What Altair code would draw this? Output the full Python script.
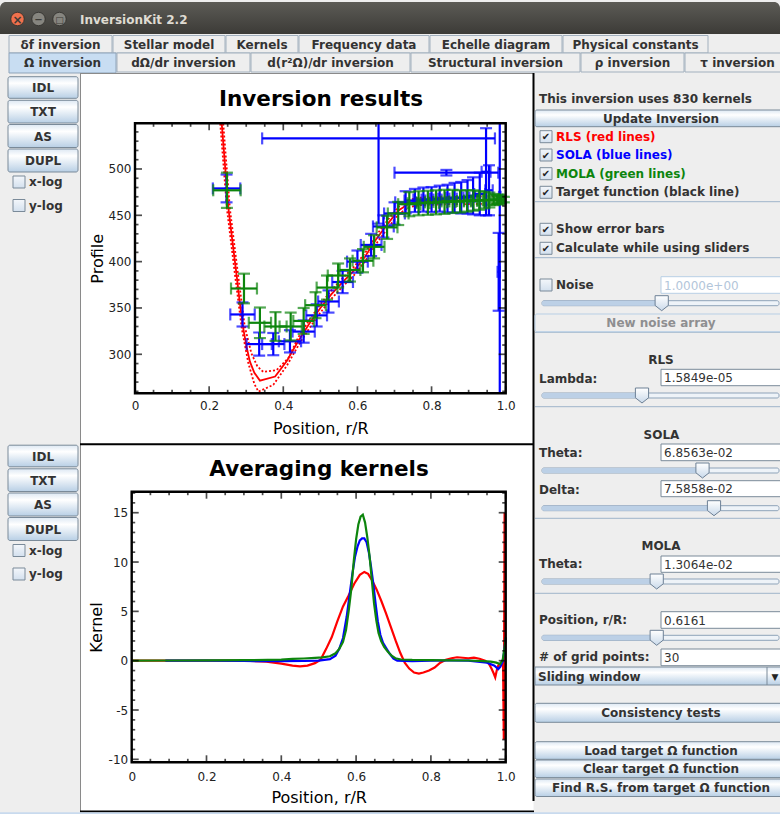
import altair as alt
import pandas as pd

FONT = "DejaVu Sans"
INK = "#333333"
RED, BLUE, GREEN = "#ff0000", "#0000ff", "#0d850d"
W, H = 780, 814

# ---------------- Omega inversion results ----------------
# RLS solution (solid) and its 1-sigma envelope (dotted)
rls_r = [0.234, 0.245, 0.252, 0.264, 0.274, 0.283, 0.292, 0.301, 0.310, 0.322, 0.337,
         0.378, 0.410, 0.440, 0.470, 0.500, 0.530, 0.560, 0.590, 0.620, 0.650, 0.680,
         0.710, 0.740, 0.770, 0.800, 0.850, 0.900, 0.950, 0.997]
rls_omega = [549, 493, 457.6, 418, 385.6, 355, 328, 308, 292, 280, 271.6,
             276, 293, 314, 333, 350, 365, 378, 390, 405, 424, 440,
             455, 463, 465, 465.5, 466, 466, 466.5, 466.5]
rls_hi_r = [0.238, 0.256, 0.278, 0.296, 0.314, 0.330, 0.346, 0.382, 0.414, 0.440, 0.470,
            0.500, 0.530, 0.560, 0.590, 0.620, 0.650, 0.680, 0.710, 0.740, 0.770, 0.800,
            0.850, 0.900, 0.950, 0.997]
rls_hi_omega = [549, 457, 386, 330, 301, 287, 281, 283, 296, 318, 337,
                354, 369, 382, 394, 409, 428, 444, 459, 467, 469, 469.5,
                470, 470, 470.5, 470.5]
rls_lo_r = [0.230, 0.248, 0.270, 0.288, 0.306, 0.322, 0.333, 0.373, 0.410, 0.440, 0.470,
            0.500, 0.530, 0.560, 0.590, 0.620, 0.650, 0.680, 0.710, 0.740, 0.770, 0.800,
            0.850, 0.900, 0.950, 0.997]
rls_lo_omega = [549, 457, 385, 328, 290, 268, 259.7, 267, 288, 309, 328,
                345, 360, 373, 385, 400, 419, 435, 451, 459, 461, 461.5,
                462, 462, 462.5, 462.5]

# SOLA estimates: kernel centre, value, kernel half-width, error
sola_r = [0.247, 0.290, 0.335, 0.373, 0.418, 0.455, 0.490, 0.522, 0.560, 0.600,
          0.637, 0.670, 0.700, 0.730, 0.755, 0.778, 0.800, 0.822, 0.843, 0.862,
          0.880, 0.897, 0.912, 0.930, 0.955, 0.947, 0.840, 0.657, 0.981, 0.984]
sola_omega = [479, 343, 311, 311, 314, 324.5, 342, 357, 378, 400,
              418, 438, 452, 464, 466, 467, 467, 468, 468, 469,
              469, 470, 471, 473, 477, 497, 496, 533, 389, 470]
sola_dr = [0.037, 0.033, 0.034, 0.030, 0.030, 0.030, 0.028, 0.028, 0.028, 0.028,
           0.028, 0.028, 0.028, 0.028, 0.028, 0.027, 0.027, 0.026, 0.025, 0.024,
           0.022, 0.020, 0.018, 0.015, 0.010, 0.012, 0.140, 0.314, 0.003, 0.002]
sola_domega = [15, 13, 12.5, 12, 12, 12, 12, 12, 12, 12,
               12, 12, 12, 12, 12.5, 13, 13.5, 14, 15, 16,
               17, 18, 20, 23, 27, 47, 3, 92, 42, 400]

# MOLA estimates
mola_r = [0.248, 0.294, 0.337, 0.379, 0.420, 0.455, 0.487, 0.518, 0.548, 0.580,
          0.615, 0.645, 0.680, 0.710, 0.740, 0.765, 0.790, 0.812, 0.835, 0.857,
          0.877, 0.896, 0.913, 0.929, 0.943, 0.956, 0.967, 0.977, 0.987, 0.995]
mola_omega = [477, 371, 334, 330, 330, 336, 353, 372, 385, 391,
              401, 416, 437, 452, 462, 463, 463.5, 464, 464.5, 465,
              465, 465.5, 466, 466, 466.5, 466.5, 467, 467, 467, 467]
mola_dr = [0.037, 0.035, 0.030, 0.030, 0.030, 0.028, 0.028, 0.028, 0.028, 0.028,
           0.028, 0.028, 0.028, 0.028, 0.030, 0.030, 0.030, 0.030, 0.030, 0.030,
           0.029, 0.027, 0.025, 0.022, 0.019, 0.015, 0.011, 0.008, 0.005, 0.003]
mola_domega = [19, 16, 16.5, 15.5, 15, 14, 14, 13, 13, 12.5,
               12.5, 12.5, 12.5, 12.5, 13, 13, 13, 13, 13, 12.5,
               12, 11.5, 11, 10, 9, 8, 6, 5, 4, 3]

# ---------------- averaging kernels at r/R = 0.6161 ----------------
kern_rls_r = [0.0, 0.20, 0.30, 0.36, 0.40, 0.43, 0.45, 0.47, 0.49, 0.505,
              0.52, 0.535, 0.55, 0.565, 0.58, 0.595, 0.61, 0.622, 0.632, 0.642,
              0.655, 0.668, 0.68, 0.693, 0.706, 0.718, 0.73, 0.742, 0.755, 0.768,
              0.78, 0.795, 0.81, 0.825, 0.84, 0.855, 0.87, 0.885, 0.90, 0.915,
              0.93, 0.945, 0.955, 0.962, 0.968, 0.972, 0.976, 0.98, 0.985, 0.99,
              0.993, 0.995, 0.997, 0.999]
kern_rls_k = [0.0, 0.0, 0.0, -0.1, -0.3, -0.5, -0.58, -0.5, -0.25, 0.1,
              1.2, 2.4, 4.0, 5.5, 6.6, 7.8, 8.7, 9.0, 8.8, 8.2,
              7.2, 6.0, 4.8, 3.4, 2.0, 0.8, -0.2, -0.8, -1.2, -1.3,
              -1.2, -1.0, -0.7, -0.2, 0.1, 0.25, 0.35, 0.3, 0.25, 0.3,
              0.2, 0.0, -0.3, -0.8, -1.3, -1.7, -1.0, -0.5, -0.3, -0.2,
              -0.3, -8.0, 15.0, -0.5]
kern_sola_r = [0.09, 0.20, 0.30, 0.40, 0.46, 0.50, 0.53, 0.545, 0.555, 0.565,
               0.575, 0.583, 0.590, 0.597, 0.604, 0.610, 0.616, 0.622, 0.628, 0.634,
               0.640, 0.646, 0.652, 0.658, 0.665, 0.672, 0.680, 0.690, 0.700, 0.710,
               0.750, 0.800, 0.850, 0.900, 0.950, 0.970, 0.980, 0.986, 0.992, 0.996, 1.0]
kern_sola_k = [0.0, 0.0, -0.03, -0.05, -0.03, 0.0, 0.15, 0.5, 1.2, 2.3,
               4.5, 6.8, 8.8, 10.5, 11.6, 12.2, 12.4, 12.4, 12.0, 11.0,
               9.5, 7.8, 5.8, 4.0, 2.6, 1.8, 1.3, 0.7, 0.2, 0.0,
               -0.05, 0.0, 0.02, 0.0, -0.2, -0.5, -0.85, -0.6, -0.1, 1.0, 2.3]
kern_mola_r = [0.0, 0.10, 0.20, 0.30, 0.40, 0.43, 0.46, 0.49, 0.51, 0.53,
               0.545, 0.555, 0.565, 0.573, 0.580, 0.587, 0.594, 0.600, 0.606, 0.612,
               0.618, 0.624, 0.630, 0.636, 0.642, 0.648, 0.654, 0.660, 0.667, 0.675,
               0.685, 0.695, 0.705, 0.720, 0.750, 0.800, 0.850, 0.900, 0.940, 0.960,
               0.975, 0.985, 0.992, 0.997, 1.0]
kern_mola_k = [0.0, 0.02, 0.03, 0.05, 0.10, 0.18, 0.22, 0.28, 0.33, 0.45,
               0.75, 1.2, 1.9, 3.1, 5.0, 7.2, 10.2, 12.3, 13.8, 14.6,
               14.8, 14.0, 12.5, 10.6, 8.2, 5.8, 4.1, 2.8, 2.0, 1.4,
               0.9, 0.5, 0.25, 0.12, 0.08, 0.06, 0.04, 0.02, -0.05, -0.1,
               -0.2, -0.35, 0.1, 1.3, 2.4]

# ---------------- axis ticks ----------------
r_major = [0, 0.2, 0.4, 0.6, 0.8, 1.0]
r_minor = [round(0.05 * i, 2) for i in range(1, 20) if i % 4]
omega_major = [300, 350, 400, 450, 500]
omega_minor = [v for v in range(260, 550, 10) if v % 50]
kernel_major = [-10, -5, 0, 5, 10, 15]
kernel_minor = [v for v in range(-10, 18) if v % 5]

# plot boxes inside the window, in pixels
TOP = dict(left=135.0, right=505.7, top=123.3, bottom=393.3)
BOT = dict(left=131.7, right=505.7, top=491.7, bottom=762.3)
TOP_OMEGA = [257.9, 549.3]
BOT_KERNEL = [-10.3, 17.13]


def lin_scale(domain, rng):
    return alt.Scale(domain=domain, range=rng, clamp=True, nice=False, zero=False)


top_x = lin_scale([0, 1], [TOP["left"], TOP["right"]])
top_y = lin_scale(TOP_OMEGA, [TOP["bottom"], TOP["top"]])
bot_x = lin_scale([0, 1], [BOT["left"], BOT["right"]])
bot_y = lin_scale(BOT_KERNEL, [BOT["bottom"], BOT["top"]])


# ---------------- helpers: window widgets in pixel space ----------------
def _x(f):
    return alt.X(f, type="quantitative", scale=None, axis=None)


def _y(f):
    return alt.Y(f, type="quantitative", scale=None, axis=None)


def vgrad(*stops):
    return alt.Gradient(gradient="linear", x1=0, x2=0, y1=0, y2=1,
                        stops=[alt.GradientStop(offset=o, color=c) for o, c in stops])


BUTTON_FILL = vgrad((0, "#dde8f3"), (0.3, "#ffffff"), (1, "#b8cfe5"))
EDGE = "#7a8a99"


def boxes(rows, **mark):
    df = pd.DataFrame(rows, columns=["x0", "x1", "y0", "y1"])
    return alt.Chart(df).mark_rect(**mark).encode(x=_x("x0"), x2="x1", y=_y("y0"), y2="y1")


def hlines(rows, **mark):
    df = pd.DataFrame(rows, columns=["x0", "x1", "y"])
    return alt.Chart(df).mark_rule(**mark).encode(x=_x("x0"), x2="x1", y=_y("y"))


def vlines(rows, **mark):
    df = pd.DataFrame(rows, columns=["x", "y0", "y1"])
    return alt.Chart(df).mark_rule(**mark).encode(x=_x("x"), y=_y("y0"), y2="y1")


def texts(rows, **mark):
    df = pd.DataFrame(rows, columns=["t", "x", "y"])
    style = dict(font=FONT, fontSize=12, fontWeight="bold", color=INK,
                 baseline="middle", align="left")
    style.update(mark)
    return alt.Chart(df).mark_text(**style).encode(x=_x("x"), y=_y("y"), text="t:N")


def buttons(rows, x0, x1, cx, fill=BUTTON_FILL, stroke=EDGE, color=INK):
    # rows: (label, top, bottom)
    return [
        boxes([(x0, x1, t, b) for _, t, b in rows], fill=fill, stroke=stroke,
              strokeWidth=1, cornerRadius=2),
        texts([(s, cx, (t + b) / 2 + 0.5) for s, t, b in rows], align="center", color=color),
    ]


def checkboxes(rows, x0, checked=True):
    # rows: y centre of each box
    layers = [boxes([(x0, x0 + 12, y - 6, y + 6) for y in rows],
                    fill=vgrad((0, "#f4f7fb"), (1, "#d3e0ee")), stroke=EDGE, strokeWidth=1)]
    if checked:
        layers.append(texts([("\u2714", x0 + 6, y + 0.5) for y in rows],
                            align="center", fontSize=10, fontWeight="normal", color="#222222"))
    return layers


THUMB = "M -0.88 -1 L 0.88 -1 L 0.88 0.3 L 0 1 L -0.88 0.3 Z"


def sliders(rows, x0=542, x1=779):
    # rows: (track centre y, thumb x)
    df = pd.DataFrame(rows, columns=["y", "tx"])
    df["x0"], df["x1"] = x0, x1
    df["ya"], df["yb"] = df["y"] - 2.5, df["y"] + 2.5
    base = alt.Chart(df)
    return [
        base.mark_rect(fill="#eef3f8", stroke="#8ea3b9", strokeWidth=1, cornerRadius=2)
            .encode(x=_x("x0"), x2="x1", y=_y("ya"), y2="yb"),
        base.mark_rect(fill="#bcd0e6", cornerRadius=2)
            .encode(x=_x("x0"), x2="tx", y=_y("ya"), y2="yb"),
        base.mark_point(shape=THUMB, size=225, filled=True, opacity=1,
                        fill=vgrad((0, "#ffffff"), (1, "#c9d9ea")), stroke="#6d8095",
                        strokeWidth=1)
            .encode(x=_x("tx"), y=_y("y")),
    ]


def fields(rows, x0=661, x1=790, color=INK, stroke=EDGE):
    # rows: (text, top, bottom)
    return [
        boxes([(x0, x1, t, b) for _, t, b in rows], fill="white", stroke=stroke, strokeWidth=1),
        texts([(s, x0 + 3, (t + b) / 2 + 0.5) for s, t, b in rows],
              fontWeight="normal", color=color),
    ]


# ---------------- helpers: the two plots ----------------
def line(xs, ys, sx, sy, color, width=2.0, dash=None):
    kw = dict(color=color, strokeWidth=width)
    if dash:
        kw["strokeDash"] = dash
    df = pd.DataFrame({"r": xs, "v": ys})
    return alt.Chart(df).mark_line(**kw).encode(
        x=alt.X("r:Q", scale=sx, axis=None), y=alt.Y("v:Q", scale=sy, axis=None))


def error_bars(r, v, dr, dv, sx, sy, ydom, color, cap=12, width=2.2):
    df = pd.DataFrame({"r": r, "v": v, "dr": dr, "dv": dv})
    base = alt.Chart(df).transform_calculate(
        r_lo="datum.r - datum.dr", r_hi="datum.r + datum.dr",
        v_lo="datum.v - datum.dv", v_hi="datum.v + datum.dv")

    def X(f):
        return alt.X(f, type="quantitative", scale=sx, axis=None)

    def Y(f):
        return alt.Y(f, type="quantitative", scale=sy, axis=None)

    layers = [
        base.mark_rule(color=color, strokeWidth=width).encode(x=X("r_lo"), x2="r_hi", y=Y("v")),
        base.mark_rule(color=color, strokeWidth=width).encode(x=X("r"), y=Y("v_lo"), y2="v_hi"),
    ]
    for f in ("r_lo", "r_hi"):
        layers.append(base.transform_filter(f"datum.{f} >= 0 && datum.{f} <= 1")
                      .mark_tick(orient="vertical", size=cap, thickness=width, color=color)
                      .encode(x=X(f), y=Y("v")))
    for f in ("v_lo", "v_hi"):
        layers.append(base.transform_filter(f"datum.{f} >= {ydom[0]} && datum.{f} <= {ydom[1]}")
                      .mark_tick(orient="horizontal", size=cap, thickness=width, color=color)
                      .encode(x=X("r"), y=Y(f)))
    return layers


def edge_ticks(values, scale, box, axis, length):
    df = pd.DataFrame({"v": values})
    base = alt.Chart(df)
    common = dict(color="black", thickness=1.7, size=length)
    h = length / 2
    if axis == "x":
        enc = alt.X("v:Q", scale=scale, axis=None)
        return [base.mark_tick(orient="vertical", yOffset=-h, **common)
                    .encode(x=enc, y=alt.value(box["bottom"])),
                base.mark_tick(orient="vertical", yOffset=h, **common)
                    .encode(x=enc, y=alt.value(box["top"]))]
    enc = alt.Y("v:Q", scale=scale, axis=None)
    return [base.mark_tick(orient="horizontal", xOffset=h, **common)
                .encode(y=enc, x=alt.value(box["left"])),
            base.mark_tick(orient="horizontal", xOffset=-h, **common)
                .encode(y=enc, x=alt.value(box["right"]))]


def frame(box, sx, sy, ydom, y_values, y_title, xlab_pad, xtitle_pad, ylab_pad, ytitle_pad):
    df = pd.DataFrame({"x0": [0], "x1": [1], "y0": [ydom[0]], "y1": [ydom[1]]})
    label_style = dict(labelFont=FONT, labelFontSize=12, labelColor="#222222",
                       labelFlush=False, labelOverlap=False, ticks=False, domain=False,
                       grid=False, titleFont=FONT, titleFontSize=16,
                       titleFontWeight="normal", titleColor="black", zindex=2)
    xaxis = alt.Axis(orient="bottom", offset=box["bottom"] - H, values=r_major,
                     labelExpr="datum.value == 0 ? '0' : format(datum.value, '.1f')",
                     labelPadding=xlab_pad, title="Position, r/R", titlePadding=xtitle_pad,
                     **label_style)
    yaxis = alt.Axis(orient="left", offset=-box["left"], values=y_values,
                     labelExpr="datum.value + ''", labelPadding=ylab_pad,
                     title=y_title, titlePadding=ytitle_pad, **label_style)
    return alt.Chart(df).mark_rect(fillOpacity=0, stroke="black", strokeWidth=2.4).encode(
        x=alt.X("x0:Q", scale=sx, axis=xaxis), x2="x1",
        y=alt.Y("y0:Q", scale=sy, axis=yaxis), y2="y1")


def plot_title(text, x, y):
    return texts([(text, x, y)], align="center", baseline="alphabetic",
                 fontSize=21.5, color="black")


# ---------------- window chrome ----------------
layers = []

# title bar
layers.append(boxes([(0, 780, 2, 34)],
                    fill=vgrad((0, "#5c5b56"), (1, "#3c3b37")),
                    cornerRadiusTopLeft=6, cornerRadiusTopRight=6))
win_btn = pd.DataFrame({"x": [17.5, 38.5, 59.5], "y": [19, 19, 19],
                        "c": ["#f0714d", "#86857f", "#86857f"]})
layers.append(alt.Chart(win_btn).mark_circle(size=180, opacity=1, stroke="#2e2d2a",
                                             strokeWidth=0.8)
              .encode(x=_x("x"), y=_y("y"), color=alt.Color("c:N", scale=None)))
layers.append(texts([("\u00d7", 17.5, 19.5)], align="center", fontSize=12, color="#3c3b37"))
layers.append(texts([("\u2212", 38.5, 19.5)], align="center", fontSize=10, color="#3c3b37"))
layers.append(texts([("\u25a1", 59.5, 19.5)], align="center", fontSize=9, color="#3c3b37"))
layers.append(texts([("InversionKit 2.2", 80, 19.5)], color="#dfdbd2"))

# tabs
tabs_row1 = [("\u03b4f inversion", 9, 112), ("Stellar model", 113, 225),
             ("Kernels", 226, 298), ("Frequency data", 299, 429),
             ("Echelle diagram", 430, 562), ("Physical constants", 563, 708)]
tabs_row2 = [("\u03a9 inversion", 9, 116), ("d\u03a9/dr inversion", 117, 250),
             ("d(r\u00b2\u03a9)/dr inversion", 251, 410), ("Structural inversion", 411, 580),
             ("\u03c1 inversion", 581, 684), ("\u03c4 inversion", 685, 790)]
layers.append(boxes([(a, b, 35.5, 53) for _, a, b in tabs_row1],
                    fill="#eeeeee", stroke="#a2b0be", strokeWidth=1))
layers.append(boxes([(a, b, 53, 72) for _, a, b in tabs_row2[1:]],
                    fill="#eeeeee", stroke="#a2b0be", strokeWidth=1))
layers.append(boxes([(tabs_row2[0][1], tabs_row2[0][2], 53, 73)],
                    fill="#c8ddf2", stroke="#8ea3b9", strokeWidth=1))
layers.append(texts([(s, (a + b) / 2, 44.5) for s, a, b in tabs_row1], align="center"))
layers.append(texts([(s, (a + b) / 2, 63) for s, a, b in tabs_row2], align="center"))

# left tool columns (one per plot)
left_top = [("IDL", 76.7, 98.3), ("TXT", 100.3, 123), ("AS", 124.5, 147.5), ("DUPL", 149, 172)]
left_bot = [(s, t + 368.5, b + 368.5) for s, t, b in left_top]
layers += buttons(left_top + left_bot, 8, 78, 43)
layers += checkboxes([182, 205.5, 550.5, 574], 13, checked=False)
layers.append(texts([("x-log", 29, 182), ("y-log", 29, 205.5),
                     ("x-log", 29, 550.5), ("y-log", 29, 574)]))

# white plot panels
layers.append(boxes([(80.5, 533.5, 73.5, 443.5), (80.5, 533.5, 445, 811.5)], fill="white"))
layers.append(vlines([(80.5, 73, 812)], color="#8a8a8a", strokeWidth=1))
layers.append(hlines([(80, 534, 73.5)], color="#8a8a8a", strokeWidth=1))
layers.append(vlines([(533.5, 73, 801)], color="black", strokeWidth=2))
layers.append(hlines([(80, 534, 444.2), (80, 534, 811.5)], color="black", strokeWidth=2))
layers.append(boxes([(0, 780, 812.3, 814)], fill="#c8daee"))

# right control column
layers.append(texts([("This inversion uses 830 kernels", 539, 99)]))
layers += buttons([("Update Inversion", 110, 126.7)], 535, 790, 661)
layers += checkboxes([136.7, 155, 173.7, 192.3, 229.3, 248.3], 540)
layers += checkboxes([285], 540, checked=False)
layers.append(texts([("RLS (red lines)", 556, 136.7)], color=RED))
layers.append(texts([("SOLA (blue lines)", 556, 155)], color=BLUE))
layers.append(texts([("MOLA (green lines)", 556, 173.7)], color=GREEN))
layers.append(texts([("Target function (black line)", 556, 192.3),
                     ("Show error bars", 556, 229.3),
                     ("Calculate while using sliders", 556, 248.3),
                     ("Noise", 556, 285)]))
layers.append(hlines([(535, 780, y) for y in (201.7, 257.7, 332.3, 406.7, 518.3, 593.3)],
                     color="#9fb4ca", strokeWidth=1))
layers += fields([("1.0000e+00", 276.7, 293.3)], color="#b3c6da", stroke="#b8cfe5")
layers += buttons([("New noise array", 314, 331.7)], 535, 790, 661,
                  fill="#eeeeee", stroke="#b8cfe5", color="#8e8f91")
layers.append(texts([("RLS", 661, 360), ("SOLA", 661.5, 435), ("MOLA", 661, 545.7)],
                    align="center"))
layers.append(texts([("Lambda:", 539, 379), ("Theta:", 539, 452.7), ("Delta:", 539, 490),
                     ("Theta:", 539, 564), ("Position, r/R:", 539, 620),
                     ("# of grid points:", 539, 657.3)]))
layers += fields([("1.5849e-05", 369.3, 385.7), ("6.8563e-02", 444, 460.7),
                  ("7.5858e-02", 480.7, 496.7), ("1.3064e-02", 556, 572.3),
                  ("0.6161", 611.7, 628.3), ("30", 649, 665.7)])
layers += sliders([(303.2, 661.7), (395.5, 642), (470.5, 702.5), (508.2, 714),
                   (581.5, 656.7), (637.8, 656.7)])
layers.append(boxes([(535, 790, 667, 685)], fill=BUTTON_FILL, stroke=EDGE, strokeWidth=1))
layers.append(vlines([(767, 667, 685)], color=EDGE, strokeWidth=1))
layers.append(texts([("Sliding window", 538, 676.5)]))
layers.append(texts([("\u25bc", 775, 676.5)], align="center", fontSize=9, color="#222222"))
layers += buttons([("Consistency tests", 703.3, 722.3),
                   ("Load target \u03a9 function", 741.7, 759.3),
                   ("Clear target \u03a9 function", 760, 777.6),
                   ("Find R.S. from target \u03a9 function", 779, 796.5)], 535, 790, 661)

# ---------------- plot 1: inversion results ----------------
layers.append(line(rls_hi_r, rls_hi_omega, top_x, top_y, RED, 1.8, [2, 2]))
layers.append(line(rls_lo_r, rls_lo_omega, top_x, top_y, RED, 1.8, [2, 2]))
layers.append(line(rls_r, rls_omega, top_x, top_y, RED, 1.8))
layers += error_bars(sola_r, sola_omega, sola_dr, sola_domega, top_x, top_y, TOP_OMEGA, BLUE)
layers += error_bars(mola_r, mola_omega, mola_dr, mola_domega, top_x, top_y, TOP_OMEGA, GREEN)
layers += edge_ticks(r_major, top_x, TOP, "x", 7)
layers += edge_ticks(r_minor, top_x, TOP, "x", 3.5)
layers += edge_ticks(omega_major, top_y, TOP, "y", 7)
layers += edge_ticks(omega_minor, top_y, TOP, "y", 3.5)
layers.append(frame(TOP, top_x, top_y, TOP_OMEGA, omega_major, "Profile", 7, 9, 4, 3))
layers.append(plot_title("Inversion results", 321, 106.3))

# ---------------- plot 2: averaging kernels ----------------
layers.append(line(kern_rls_r, kern_rls_k, bot_x, bot_y, RED, 2.2))
layers.append(line(kern_sola_r, kern_sola_k, bot_x, bot_y, BLUE, 2.2))
layers.append(line(kern_mola_r, kern_mola_k, bot_x, bot_y, GREEN, 2.2))
layers += edge_ticks(r_major, bot_x, BOT, "x", 7)
layers += edge_ticks(r_minor, bot_x, BOT, "x", 3.5)
layers += edge_ticks(kernel_major, bot_y, BOT, "y", 7)
layers += edge_ticks(kernel_minor, bot_y, BOT, "y", 3.5)
layers.append(frame(BOT, bot_x, bot_y, BOT_KERNEL, kernel_major, "Kernel", 9, 7, 4, 4))
layers.append(plot_title("Averaging kernels", 319, 476.3))

chart = (
    alt.layer(*layers)
    .resolve_scale(x="independent", y="independent")
    .properties(width=W, height=H, padding=0,
                autosize=alt.AutoSizeParams(type="none"), background="#eeeeee")
    .configure_view(stroke=None)
)

chart.save("out.html", embed_options={"renderer": "svg", "actions": False})
